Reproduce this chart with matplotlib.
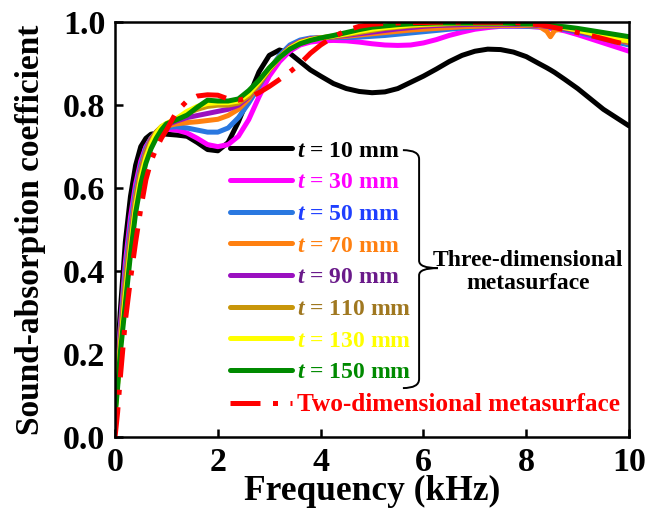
import matplotlib
matplotlib.use('Agg')
import matplotlib.pyplot as plt
from matplotlib.path import Path
from matplotlib.patches import PathPatch

# Frequency grid (kHz) shared by all curves
freq = [0, 0.05, 0.1, 0.2, 0.3, 0.4, 0.5, 0.6, 0.7, 0.8, 0.9, 1.0, 1.2, 1.4, 1.6,
        1.8, 2.0, 2.2, 2.4, 2.6, 2.8, 3.0, 3.2, 3.4, 3.6, 3.8, 4.0, 4.25, 4.5, 4.75,
        5.0, 5.25, 5.5, 5.75, 6.0, 6.25, 6.5, 6.75, 7.0, 7.25, 7.5, 7.75, 8.0, 8.25,
        8.4, 8.47, 8.55, 8.75, 9.0, 9.25, 9.5, 9.75, 10.0]

t10 = [0.08, 0.20, 0.30, 0.47, 0.58, 0.655, 0.70, 0.72, 0.73, 0.732, 0.732, 0.73, 0.728, 0.725, 0.71,
       0.693, 0.69, 0.71, 0.76, 0.82, 0.88, 0.92, 0.933, 0.925, 0.905, 0.885, 0.87, 0.852, 0.84, 0.833,
       0.83, 0.832, 0.84, 0.855, 0.87, 0.887, 0.905, 0.92, 0.93, 0.935, 0.934, 0.928, 0.917, 0.90,
       0.89, 0.885, 0.879, 0.862, 0.84, 0.815, 0.79, 0.77, 0.75]
t30 = [0.08, 0.17, 0.26, 0.42, 0.53, 0.61, 0.665, 0.70, 0.72, 0.732, 0.74, 0.742, 0.74, 0.733, 0.72,
       0.705, 0.70, 0.705, 0.725, 0.765, 0.82, 0.87, 0.905, 0.93, 0.945, 0.952, 0.955, 0.956, 0.955, 0.952,
       0.948, 0.945, 0.944, 0.945, 0.95, 0.958, 0.968, 0.976, 0.983, 0.987, 0.99, 0.99, 0.99, 0.988,
       0.986, 0.985, 0.984, 0.979, 0.97, 0.96, 0.95, 0.94, 0.93]
t50 = [0.08, 0.16, 0.25, 0.40, 0.51, 0.595, 0.655, 0.695, 0.72, 0.735, 0.742, 0.746, 0.748, 0.745, 0.74,
       0.735, 0.735, 0.745, 0.77, 0.805, 0.845, 0.885, 0.92, 0.945, 0.957, 0.962, 0.963, 0.963, 0.963, 0.964,
       0.966, 0.968, 0.971, 0.974, 0.977, 0.98, 0.983, 0.986, 0.988, 0.99, 0.991, 0.991, 0.99, 0.989,
       0.988, 0.987, 0.986, 0.982, 0.976, 0.968, 0.96, 0.952, 0.945]
t70 = [0.07, 0.15, 0.24, 0.38, 0.49, 0.58, 0.645, 0.688, 0.718, 0.735, 0.745, 0.75, 0.755, 0.758, 0.76,
       0.763, 0.766, 0.775, 0.79, 0.815, 0.85, 0.885, 0.915, 0.94, 0.953, 0.96, 0.963, 0.964, 0.966, 0.969,
       0.972, 0.975, 0.978, 0.981, 0.983, 0.985, 0.987, 0.989, 0.99, 0.991, 0.992, 0.992, 0.992, 0.99,
       0.978, 0.965, 0.98, 0.986, 0.98, 0.973, 0.965, 0.958, 0.95]
t90 = [0.07, 0.14, 0.23, 0.37, 0.48, 0.57, 0.64, 0.683, 0.715, 0.735, 0.747, 0.752, 0.762, 0.77, 0.775,
       0.78, 0.785, 0.79, 0.80, 0.82, 0.85, 0.885, 0.915, 0.94, 0.953, 0.96, 0.962, 0.965, 0.968, 0.972,
       0.976, 0.98, 0.984, 0.987, 0.99, 0.992, 0.993, 0.994, 0.995, 0.995, 0.995, 0.995, 0.994, 0.992,
       0.99, 0.989, 0.988, 0.984, 0.978, 0.971, 0.965, 0.958, 0.952]
t110 = [0.06, 0.13, 0.22, 0.36, 0.47, 0.565, 0.635, 0.68, 0.712, 0.735, 0.748, 0.755, 0.767, 0.78, 0.79,
        0.797, 0.80, 0.80, 0.805, 0.822, 0.852, 0.885, 0.915, 0.938, 0.952, 0.958, 0.962, 0.966, 0.97, 0.975,
        0.98, 0.985, 0.988, 0.991, 0.993, 0.995, 0.996, 0.997, 0.997, 0.997, 0.997, 0.997, 0.996, 0.994,
        0.992, 0.991, 0.99, 0.986, 0.98, 0.973, 0.966, 0.959, 0.953]
t130 = [0.06, 0.13, 0.21, 0.34, 0.455, 0.555, 0.625, 0.673, 0.707, 0.732, 0.748, 0.756, 0.768, 0.785, 0.797,
        0.804, 0.806, 0.806, 0.81, 0.828, 0.856, 0.888, 0.915, 0.937, 0.951, 0.958, 0.962, 0.967, 0.972, 0.978,
        0.983, 0.987, 0.99, 0.993, 0.995, 0.996, 0.997, 0.998, 0.998, 0.998, 0.998, 0.997, 0.996, 0.994,
        0.993, 0.992, 0.991, 0.987, 0.981, 0.974, 0.967, 0.96, 0.955]
t150 = [0.05, 0.12, 0.20, 0.32, 0.44, 0.54, 0.61, 0.66, 0.695, 0.72, 0.74, 0.755, 0.765, 0.776, 0.795,
        0.812, 0.81, 0.81, 0.815, 0.835, 0.86, 0.89, 0.915, 0.935, 0.948, 0.956, 0.962, 0.968, 0.975, 0.982,
        0.988, 0.991, 0.994, 0.996, 0.997, 0.998, 0.998, 0.998, 0.998, 0.998, 0.998, 0.997, 0.996, 0.995,
        0.993, 0.992, 0.991, 0.989, 0.985, 0.98, 0.975, 0.97, 0.965]
two_d = [0.0, 0.06, 0.14, 0.28, 0.38, 0.47, 0.55, 0.62, 0.665, 0.695, 0.72, 0.74, 0.785, 0.81, 0.822,
         0.825, 0.824, 0.815, 0.812, 0.818, 0.83, 0.845, 0.862, 0.88, 0.90, 0.925, 0.945, 0.965, 0.98, 0.99,
         0.995, 0.997, 0.998, 0.999, 0.999, 1.0, 1.0, 1.0, 1.0, 1.0, 1.0, 0.999, 0.997, 0.994,
         0.991, 0.989, 0.987, 0.982, 0.975, 0.968, 0.96, 0.952, 0.945]

series = [t10, t30, t50, t70, t90, t110, t130, t150]
labels = ['$t$ = 10 mm', '$t$ = 30 mm', '$t$ = 50 mm', '$t$ = 70 mm',
          '$t$ = 90 mm', '$t$ = 110 mm', '$t$ = 130 mm', '$t$ = 150 mm']
line_colors = ['#000000', '#FF00FF', '#2A78E0', '#FF8010', '#9A10C0', '#C8960A', '#FFFF00', '#008A00']
text_colors = ['#000000', '#FF00FF', '#1F3FFF', '#FF8010', '#6A1A8A', '#A07820', '#FFFF00', '#008A00']
two_d_label = 'Two-dimensional metasurface'

plt.rcParams['font.family'] = 'Liberation Serif'
plt.rcParams['font.weight'] = 'bold'
plt.rcParams['axes.labelweight'] = 'bold'
plt.rcParams['mathtext.fontset'] = 'custom'
plt.rcParams['mathtext.it'] = 'Liberation Serif:bold:italic'
plt.rcParams['mathtext.rm'] = 'Liberation Serif:bold'

fig = plt.figure(figsize=(6.65, 5.16), dpi=100)
ax = fig.add_axes([0.173, 0.153, 0.773, 0.804])

for vals, lab, col in zip(series, labels, line_colors):
    ax.plot(freq, vals, color=col, lw=3.6, label=lab, solid_capstyle='round')
ax.plot(freq, two_d, color='#FF0000', lw=3.6, label=two_d_label,
        dashes=[6.0, 2.5, 1.0, 2.5])

ax.set_xlim(0, 10)
ax.set_ylim(0, 1.0)
ax.set_xticks([0, 2, 4, 6, 8, 10])
ax.set_yticks([0.0, 0.2, 0.4, 0.6, 0.8, 1.0])
ax.set_yticklabels(['0.0', '0.2', '0.4', '0.6', '0.8', '1.0'])
ax.tick_params(direction='in', length=6, width=1.8, labelsize=24.5)
ax.tick_params(axis='y', pad=7)
ax.tick_params(axis='x', pad=7)
for s in ax.spines.values():
    s.set_linewidth(1.8)

ax.set_xlabel('Frequency (kHz)', fontsize=25.5, labelpad=-2)
ax.set_ylabel('Sound-absorption coefficient', fontsize=24, labelpad=12)

leg = ax.legend(loc='upper left', bbox_to_anchor=(0.224, 0.716), frameon=False,
                fontsize=17, handlelength=2.6, handletextpad=0.25,
                labelspacing=0.43, borderpad=0, borderaxespad=0)
for txt, col in zip(leg.get_texts(), text_colors + ['#FF0000']):
    txt.set_color(col)
leg.get_texts()[-1].set_fontsize(18.2)

# curly brace grouping the 3D curves
verts = [(0.560, 0.6916), (0.5915, 0.6916), (0.5915, 0.670),
         (0.5915, 0.425), (0.5915, 0.4072), (0.628, 0.4072),
         (0.5915, 0.4072), (0.5915, 0.39),
         (0.5915, 0.140), (0.5915, 0.118), (0.560, 0.118)]
codes = [Path.MOVETO, Path.CURVE3, Path.CURVE3,
         Path.LINETO, Path.CURVE3, Path.CURVE3,
         Path.CURVE3, Path.CURVE3,
         Path.LINETO, Path.CURVE3, Path.CURVE3]
ax.add_patch(PathPatch(Path(verts, codes), transform=ax.transAxes,
                       fill=False, lw=1.4, edgecolor='black'))
ax.text(0.8035, 0.3976, 'Three-dimensional\nmetasurface', transform=ax.transAxes,
        ha='center', va='center', fontsize=17, linespacing=1.15)

fig.savefig('out.png', dpi=100)
